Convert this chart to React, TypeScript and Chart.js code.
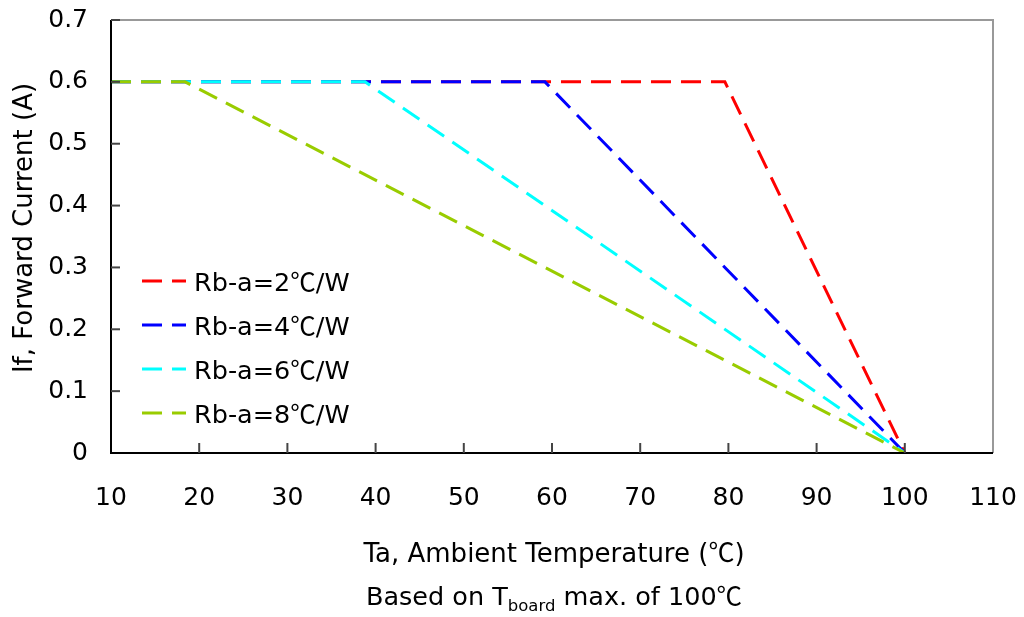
import React, { useEffect, useRef } from "react";
import { Chart, registerables } from "chart.js";

Chart.register(...registerables);

// ---- data ----
const seriesLabels = ["Rb-a=2℃/W", "Rb-a=4℃/W", "Rb-a=6℃/W", "Rb-a=8℃/W"];
const seriesColors = ["#FF0000", "#0000FF", "#00FFFF", "#99CC00"];

const rb2Temps = [10, 79.6, 100];
const rb2Current = [0.6, 0.6, 0];
const rb4Temps = [10, 59.2, 100];
const rb4Current = [0.6, 0.6, 0];
const rb6Temps = [10, 38.8, 100];
const rb6Current = [0.6, 0.6, 0];
const rb8Temps = [10, 18.4, 100];
const rb8Current = [0.6, 0.6, 0];

const xTickLabels = ["10", "20", "30", "40", "50", "60", "70", "80", "90", "100", "110"];
const yTickLabels = ["0", "0.1", "0.2", "0.3", "0.4", "0.5", "0.6", "0.7"];

const xTitle = "Ta, Ambient Temperature (℃)";
const yTitle = "If, Forward Current (A)";
const subTitleParts = ["Based on T", "board", " max. of 100℃"];

const LATIN = '"DejaVu Sans", sans-serif';
const CJK = '"Noto Sans CJK KR", "DejaVu Sans", sans-serif';

const toPoints = (xs: number[], ys: number[]) => xs.map((x, i) => ({ x, y: ys[i] }));

// splits text on ℃ so that the degree sign uses a CJK full-width glyph
function segments(text: string) {
  const out: { t: string; cjk: boolean }[] = [];
  let buf = "";
  for (const ch of text) {
    if (ch === "℃") {
      if (buf) out.push({ t: buf, cjk: false });
      buf = "";
      out.push({ t: ch, cjk: true });
    } else buf += ch;
  }
  if (buf) out.push({ t: buf, cjk: false });
  return out;
}

function measureMixed(ctx: CanvasRenderingContext2D, text: string, size: number) {
  let w = 0;
  for (const s of segments(text)) {
    ctx.font = `${size}px ${s.cjk ? CJK : LATIN}`;
    w += ctx.measureText(s.t).width;
  }
  return w;
}

function drawMixed(ctx: CanvasRenderingContext2D, text: string, x: number, y: number, size: number) {
  ctx.textAlign = "left";
  let cx = x;
  for (const s of segments(text)) {
    ctx.font = `${size}px ${s.cjk ? CJK : LATIN}`;
    ctx.fillText(s.t, cx, y);
    cx += ctx.measureText(s.t).width;
  }
  return cx;
}

const decorPlugin = {
  id: "decor",
  afterDraw(chart: any) {
    const ctx: CanvasRenderingContext2D = chart.ctx;
    const { left, right, top, bottom } = chart.chartArea;
    const xs = chart.scales.x;
    const ys = chart.scales.y;
    ctx.save();
    ctx.setLineDash([]);
    ctx.textBaseline = "alphabetic";
    // frame: top and right gray
    ctx.strokeStyle = "#999999";
    ctx.lineWidth = 2;
    ctx.beginPath();
    ctx.moveTo(left, top);
    ctx.lineTo(right, top);
    ctx.lineTo(right, bottom);
    ctx.stroke();
    // left & bottom axes black
    ctx.strokeStyle = "#000000";
    ctx.beginPath();
    ctx.moveTo(left, top);
    ctx.lineTo(left, bottom);
    ctx.lineTo(right, bottom);
    ctx.stroke();
    // inward ticks
    ctx.strokeStyle = "#444444";
    ctx.lineWidth = 2;
    for (let i = 1; i < yTickLabels.length; i++) {
      const y = ys.getPixelForValue(Number(yTickLabels[i]));
      ctx.beginPath();
      ctx.moveTo(left, y);
      ctx.lineTo(left + 9, y);
      ctx.stroke();
    }
    for (let i = 1; i < xTickLabels.length - 1; i++) {
      const x = xs.getPixelForValue(Number(xTickLabels[i]));
      ctx.beginPath();
      ctx.moveTo(x, bottom);
      ctx.lineTo(x, bottom - 10);
      ctx.stroke();
    }

    // legend
    const ds = chart.data.datasets;
    for (let i = 0; i < ds.length; i++) {
      const ly = 281 + i * 44;
      ctx.strokeStyle = ds[i].borderColor;
      ctx.lineWidth = 3;
      ctx.setLineDash([20, 10]);
      ctx.beginPath();
      ctx.moveTo(142, ly);
      ctx.lineTo(186, ly);
      ctx.stroke();
      ctx.setLineDash([]);
      ctx.fillStyle = "#000000";
      drawMixed(ctx, ds[i].label, 194, ly + 10, 25.5);
    }

    // x title
    const cx = (left + right) / 2 + 2;
    ctx.fillStyle = "#000000";
    const tw = measureMixed(ctx, xTitle, 26);
    drawMixed(ctx, xTitle, cx - tw / 2, 562, 26);

    // subtitle with subscript
    const w0 = measureMixed(ctx, subTitleParts[0], 25.5);
    const w2 = measureMixed(ctx, subTitleParts[2], 25.5);
    const w1 = measureMixed(ctx, subTitleParts[1], 16.5);
    let sx = cx - (w0 + w1 + w2) / 2;
    sx = drawMixed(ctx, subTitleParts[0], sx, 605, 25.5);
    sx = drawMixed(ctx, subTitleParts[1], sx, 611, 16.5);
    drawMixed(ctx, subTitleParts[2], sx, 605, 25.5);

    // y title
    ctx.save();
    ctx.translate(32, 228);
    ctx.rotate(-Math.PI / 2);
    const yw = measureMixed(ctx, yTitle, 26);
    drawMixed(ctx, yTitle, -yw / 2, 0, 26);
    ctx.restore();

    ctx.restore();
  },
};

export default function App() {
  const canvasRef = useRef<HTMLCanvasElement | null>(null);

  useEffect(() => {
    document.body.style.margin = "0";
    const canvas = canvasRef.current;
    if (!canvas) return;
    const series = [
      toPoints(rb2Temps, rb2Current),
      toPoints(rb4Temps, rb4Current),
      toPoints(rb6Temps, rb6Current),
      toPoints(rb8Temps, rb8Current),
    ];
    const chart = new Chart(canvas, {
      type: "line",
      data: {
        datasets: series.map((pts, i) => ({
          label: seriesLabels[i],
          data: pts,
          borderColor: seriesColors[i],
          backgroundColor: seriesColors[i],
          borderWidth: 3,
          borderDash: [20, 10],
          borderCapStyle: "butt",
          pointRadius: 0,
          tension: 0,
          fill: false,
          order: series.length - i,
        })),
      },
      options: {
        animation: false,
        responsive: false,
        maintainAspectRatio: false,
        devicePixelRatio: 1,
        layout: { padding: { left: 0, right: 31, top: 20, bottom: 0 } },
        plugins: {
          legend: { display: false },
          tooltip: { enabled: false },
          title: { display: false },
        },
        scales: {
          x: {
            type: "linear",
            min: 10,
            max: 110,
            grid: { display: false, drawTicks: false },
            border: { display: false },
            ticks: {
              stepSize: 10,
              padding: 30,
              color: "#000000",
              font: { family: LATIN, size: 25 },
              maxRotation: 0,
              callback: (v: any) => xTickLabels[Math.round((Number(v) - 10) / 10)] ?? "",
            },
            afterFit: (s: any) => {
              s.height = 617 - 453;
              s.paddingLeft = 0;
              s.paddingRight = 0;
            },
          },
          y: {
            type: "linear",
            min: 0,
            max: 0.7,
            grid: { display: false, drawTicks: false },
            border: { display: false },
            ticks: {
              stepSize: 0.1,
              padding: 23,
              color: "#000000",
              font: { family: LATIN, size: 25 },
              callback: (v: any) => yTickLabels[Math.round(Number(v) * 10)] ?? "",
            },
            afterFit: (s: any) => {
              s.width = 111;
              s.paddingTop = 0;
              s.paddingBottom = 0;
            },
          },
        },
      },
      plugins: [decorPlugin],
    });
    return () => chart.destroy();
  }, []);

  return (
    <div style={{ position: "fixed", left: 0, top: 0, width: 1024, height: 617, background: "#ffffff" }}>
      <canvas ref={canvasRef} width={1024} height={617} style={{ display: "block", width: 1024, height: 617 }} />
    </div>
  );
}
